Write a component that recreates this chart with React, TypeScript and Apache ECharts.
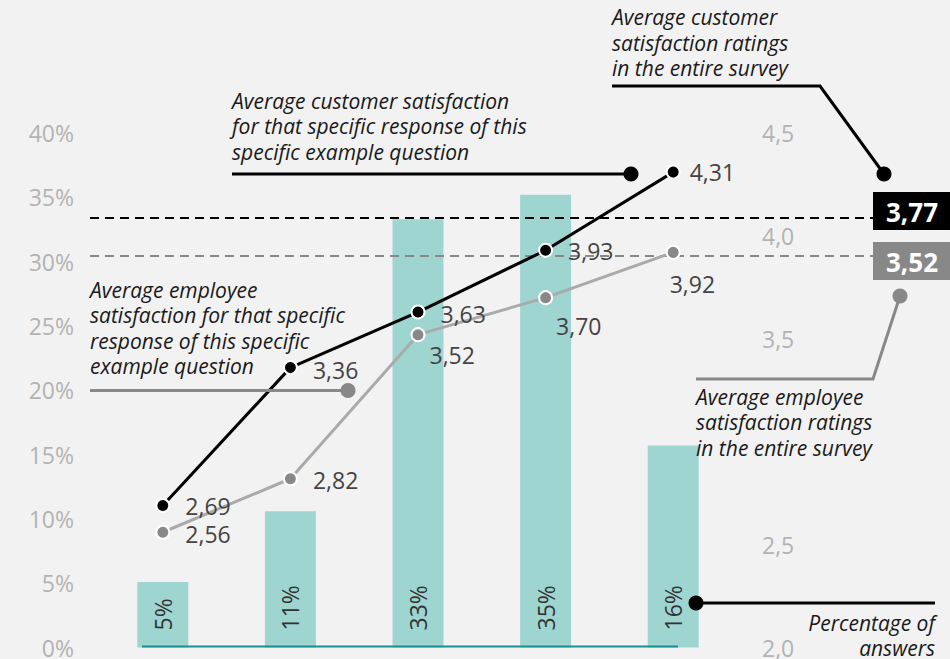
import React, { useEffect, useRef } from 'react';
import * as echarts from 'echarts';

// ---- data ----
const categories = ['Response 1', 'Response 2', 'Response 3', 'Response 4', 'Response 5'];
const answerShare = [5.1, 10.6, 33.3, 35.2, 15.7];
const customerRating = [2.69, 3.36, 3.63, 3.93, 4.31];
const employeeRating = [2.56, 2.82, 3.52, 3.7, 3.92];
const customerAverageLabel = '3,77';
const employeeAverageLabel = '3,52';
const shareAxis = { min: 0, max: 40, interval: 5 };
const ratingAxis = { min: 2, max: 4.5, interval: 0.5 };
const annCustomerSpecific = 'Average customer satisfaction\nfor that specific response of this\nspecific example question';
const annCustomerSurvey = 'Average customer\nsatisfaction ratings\nin the entire survey';
const annEmployeeSpecific = 'Average employee\nsatisfaction for that specific\nresponse of this specific\nexample question';
const annEmployeeSurvey = 'Average employee\nsatisfaction ratings\nin the entire survey';
const annShare = 'Percentage of\nanswers';

const FONT = '"Open Sans", "Noto Sans", sans-serif';
const fmt2 = (v: number) => v.toFixed(2).replace('.', ',');

export default function App() {
  const ref = useRef<HTMLDivElement>(null);
  useEffect(() => {
    if (!ref.current) return;
    const chart = echarts.init(ref.current, undefined, { renderer: 'svg' });

    const custOffsets = [[10, 1], [10, 2], [10, 2], [10, 1], [4, 0]];
    const empOffsets = [[10, 2], [10, 1], [-1, 20], [-2, 28], [-16, 32]];

    const annText = (x: number, y: number, text: string, align: string = 'left') => ({
      type: 'text',
      z: 10,
      style: {
        x, y, text, align, verticalAlign: 'top',
        fontFamily: FONT, fontStyle: 'italic', fontSize: 21, lineHeight: 25.5, fill: '#1a1a1a',
      },
    });
    const dot = (cx: number, cy: number, fill: string) => ({
      type: 'circle', z: 12, shape: { cx, cy, r: 7.5 }, style: { fill },
    });

    const option: any = {
      animation: false,
      backgroundColor: '#f2f2f2',
      textStyle: { fontFamily: FONT },
      grid: { left: 99, right: 213, top: 133, bottom: 11 },
      xAxis: {
        type: 'category',
        data: categories,
        axisLine: { show: false },
        axisTick: { show: false },
        axisLabel: { show: false },
        splitLine: { show: false },
      },
      yAxis: [
        {
          type: 'value',
          min: shareAxis.min, max: shareAxis.max, interval: shareAxis.interval,
          axisLine: { show: false }, axisTick: { show: false }, splitLine: { show: false },
          axisLabel: { formatter: '{value}%', color: '#b3b3b3', fontSize: 23, margin: 25, fontFamily: FONT },
        },
        {
          type: 'value',
          min: ratingAxis.min, max: ratingAxis.max, interval: ratingAxis.interval,
          axisLine: { show: false }, axisTick: { show: false }, splitLine: { show: false },
          axisLabel: {
            formatter: (v: number) => (Math.abs(v - 3) < 1e-9 ? '' : v.toFixed(1).replace('.', ',')),
            color: '#b3b3b3', fontSize: 23, margin: 25, fontFamily: FONT,
          },
        },
      ],
      series: [
        {
          type: 'bar',
          data: answerShare,
          barWidth: 51,
          itemStyle: { color: '#9fd5d1' },
          z: 1,
          label: {
            show: true,
            position: 'insideBottom',
            distance: 17,
            rotate: 90,
            align: 'left',
            verticalAlign: 'middle',
            formatter: (p: any) => Math.round(p.value) + '%',
            fontSize: 23,
            color: '#333',
            fontFamily: FONT,
          },
        },
        {
          type: 'line',
          yAxisIndex: 1,
          z: 4,
          data: employeeRating.map((v, i) => ({ value: v, label: { offset: empOffsets[i] } })),
          symbol: 'circle',
          symbolSize: 13,
          lineStyle: { color: '#aaaaaa', width: 3 },
          itemStyle: { color: '#888888', borderColor: '#ffffff', borderWidth: 2 },
          label: {
            show: true, position: 'right', formatter: (p: any) => fmt2(p.value),
            fontSize: 23, color: '#444', fontFamily: FONT,
          },
        },
        {
          type: 'line',
          yAxisIndex: 1,
          z: 5,
          data: customerRating.map((v, i) => ({ value: v, label: { offset: custOffsets[i] } })),
          symbol: 'circle',
          symbolSize: 13,
          lineStyle: { color: '#000000', width: 3 },
          itemStyle: { color: '#000000', borderColor: '#ffffff', borderWidth: 2 },
          label: {
            show: true, position: 'right', formatter: (p: any) => fmt2(p.value),
            fontSize: 23, color: '#444', fontFamily: FONT,
          },
        },
      ],
      graphic: [
        // baseline under bars
        { type: 'line', z: 3, shape: { x1: 142, y1: 646.5, x2: 678, y2: 646.5 }, style: { stroke: '#1a8f8f', lineWidth: 2 } },
        // average reference dashed lines
        { type: 'line', z: 2, shape: { x1: 90, y1: 218, x2: 873, y2: 218 }, style: { stroke: '#000', lineWidth: 2, lineDash: [9, 6] } },
        { type: 'line', z: 2, shape: { x1: 90, y1: 256, x2: 873, y2: 256 }, style: { stroke: '#888', lineWidth: 2, lineDash: [9, 6] } },
        { type: 'rect', z: 10, shape: { x: 873, y: 192, width: 77, height: 38 }, style: { fill: '#000' } },
        { type: 'text', z: 11, style: { x: 912, y: 211.5, text: customerAverageLabel, align: 'center', verticalAlign: 'middle', fontFamily: FONT, fontWeight: 'bold', fontSize: 26, fill: '#fff' } },
        { type: 'rect', z: 10, shape: { x: 873, y: 242, width: 77, height: 38 }, style: { fill: '#888' } },
        { type: 'text', z: 11, style: { x: 912, y: 261.5, text: employeeAverageLabel, align: 'center', verticalAlign: 'middle', fontFamily: FONT, fontWeight: 'bold', fontSize: 26, fill: '#fff' } },
        // customer specific annotation
        annText(232, 88, annCustomerSpecific),
        { type: 'line', z: 10, shape: { x1: 232, y1: 174, x2: 631, y2: 174 }, style: { stroke: '#000', lineWidth: 3 } },
        dot(631, 174, '#000'),
        // customer survey annotation
        annText(612, 4.5, annCustomerSurvey),
        { type: 'polyline', z: 10, shape: { points: [[612, 86], [820, 86], [884, 174]] }, style: { stroke: '#000', lineWidth: 3, fill: null } },
        dot(884, 174, '#000'),
        // employee specific annotation
        annText(90, 277, annEmployeeSpecific),
        { type: 'line', z: 10, shape: { x1: 90, y1: 390.5, x2: 348, y2: 390.5 }, style: { stroke: '#888', lineWidth: 3 } },
        dot(348, 390.5, '#888'),
        // employee survey annotation
        { type: 'polyline', z: 10, shape: { points: [[900, 296], [873, 379], [696, 379]] }, style: { stroke: '#888', lineWidth: 3, fill: null } },
        dot(900, 296, '#888'),
        annText(696, 384, annEmployeeSurvey),
        // percentage annotation
        { type: 'line', z: 10, shape: { x1: 696, y1: 603, x2: 935, y2: 603 }, style: { stroke: '#000', lineWidth: 3 } },
        dot(696, 603, '#000'),
        annText(935, 610, annShare, 'right'),
      ],
    };

    chart.setOption(option);
    return () => chart.dispose();
  }, []);

  return (
    <div
      ref={ref}
      style={{ position: 'fixed', left: 0, top: 0, width: 950, height: 659, background: '#f2f2f2' }}
    />
  );
}
